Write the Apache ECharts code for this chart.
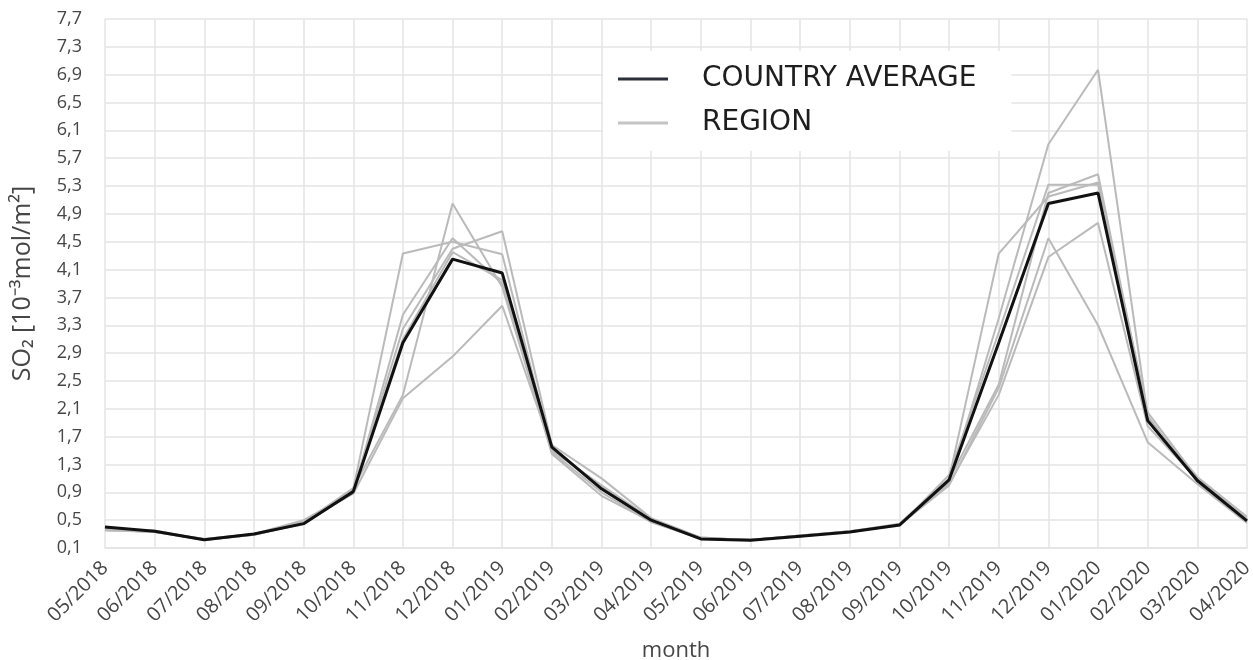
<!DOCTYPE html>
<html>
<head>
<meta charset="utf-8">
<script src="https://cdn.jsdelivr.net/npm/echarts@6/dist/echarts.min.js"></script>
<style>
  html, body { margin: 0; padding: 0; background: #fff; }
  #chart { width: 1253px; height: 660px; }
</style>
</head>
<body>
<div id="chart"></div>
<script>
// Monthly SO2 column density, 10^-3 mol/m^2
const months = [
  '05/2018','06/2018','07/2018','08/2018','09/2018','10/2018','11/2018','12/2018',
  '01/2019','02/2019','03/2019','04/2019','05/2019','06/2019','07/2019','08/2019',
  '09/2019','10/2019','11/2019','12/2019','01/2020','02/2020','03/2020','04/2020'
];

const countryAverage = [0.40,0.34,0.22,0.30,0.45,0.91,3.05,4.25,4.05,1.55,0.95,0.50,
                        0.23,0.21,0.27,0.33,0.43,1.08,3.05,5.05,5.20,1.93,1.07,0.49];

const region1 = [0.36,0.33,0.22,0.29,0.47,0.95,4.33,4.50,4.32,1.50,1.00,0.52,
                 0.24,0.22,0.28,0.34,0.45,1.10,4.33,5.15,5.35,2.05,1.10,0.52];
const region2 = [0.35,0.34,0.23,0.30,0.50,0.90,3.45,4.55,3.90,1.45,0.85,0.48,
                 0.23,0.22,0.27,0.33,0.44,1.05,3.40,5.90,6.97,2.00,1.05,0.50];
const region3 = [0.38,0.34,0.21,0.30,0.44,0.93,3.25,4.40,4.65,1.58,1.10,0.53,
                 0.25,0.21,0.28,0.34,0.42,1.15,3.20,5.32,5.32,1.95,1.12,0.55];
const region4 = [0.37,0.35,0.22,0.29,0.46,0.96,2.30,5.05,3.85,1.48,0.90,0.47,
                 0.24,0.22,0.27,0.34,0.43,1.00,2.40,4.55,3.30,1.62,1.02,0.46];
const region5 = [0.36,0.33,0.23,0.30,0.48,0.88,2.25,2.85,3.58,1.53,0.98,0.50,
                 0.25,0.21,0.28,0.33,0.44,1.02,2.30,4.28,4.77,1.85,1.08,0.50];
const region6 = [0.38,0.34,0.22,0.29,0.45,0.92,3.10,4.35,3.95,1.55,0.95,0.50,
                 0.24,0.22,0.27,0.33,0.43,1.08,2.45,5.20,5.47,1.98,1.06,0.49];
const regions = [region1, region2, region3, region4, region5, region6];

const yTicks = [0.1,0.5,0.9,1.3,1.7,2.1,2.5,2.9,3.3,3.7,4.1,4.5,4.9,5.3,5.7,6.1,6.5,6.9,7.3,7.7];

const chart = echarts.init(document.getElementById('chart'), null, { renderer: 'canvas' });

const gridColor = '#e4e4e4';
const labelColor = '#464646';
const regionColor = '#bababa';
const avgColor = '#111111';

const regionSeries = regions.map(vals => ({
  name: 'REGION',
  type: 'line',
  data: vals,
  symbol: 'none',
  lineStyle: { color: regionColor, width: 2 },
  itemStyle: { color: regionColor },
  z: 2
}));

chart.setOption({
  backgroundColor: '#ffffff',
  animation: false,
  grid: {
    left: 105, right: 6, top: 19, bottom: 112,
    containLabel: false,
    outerBoundsMode: 'none'
  },
  legend: {
    data: [
      { name: 'COUNTRY AVERAGE', itemStyle: { color: '#2b2f3a' } },
      { name: 'REGION', itemStyle: { color: '#c4c4c4' } }
    ],
    orient: 'vertical',
    left: 603,
    top: 51,
    padding: [14, 35, 14, 15],
    backgroundColor: '#ffffff',
    icon: 'rect',
    itemWidth: 50,
    itemHeight: 3,
    itemGap: 16,
    selectedMode: false,
    textStyle: {
      fontFamily: 'DejaVu Sans',
      fontSize: 28,
      color: '#1e1e1e',
      padding: [0, 0, 0, 29]
    }
  },
  xAxis: {
    type: 'category',
    data: months,
    boundaryGap: false,
    name: 'month',
    nameLocation: 'middle',
    nameGap: 92,
    nameTextStyle: { fontFamily: 'Open Sans', fontSize: 22, color: labelColor },
    axisLine: { lineStyle: { color: gridColor, width: 1.5 } },
    axisTick: { show: false },
    axisLabel: {
      rotate: 45,
      fontFamily: 'Open Sans',
      fontSize: 20,
      color: labelColor,
      margin: 17,
      interval: 0
    },
    splitLine: { show: true, lineStyle: { color: gridColor, width: 1.5 } }
  },
  yAxis: {
    type: 'value',
    min: 0.1,
    max: 7.7,
    name: 'SO\u2082 [10\u207B\u00B3mol/m\u00B2]',
    nameLocation: 'middle',
    nameGap: 70,
    nameTextStyle: { fontFamily: 'Open Sans', fontSize: 25, color: labelColor },
    axisLine: { show: false },
    axisTick: { show: false, customValues: yTicks },
    axisLabel: {
      customValues: yTicks,
      fontFamily: 'Open Sans',
      fontSize: 18,
      color: labelColor,
      margin: 23,
      formatter: v => v.toFixed(1).replace('.', ',')
    },
    splitLine: { show: true, lineStyle: { color: gridColor, width: 1.5 } }
  },
  series: [
    {
      name: 'COUNTRY AVERAGE',
      type: 'line',
      data: countryAverage,
      symbol: 'none',
      lineStyle: { color: avgColor, width: 3 },
      itemStyle: { color: avgColor },
      z: 5
    },
    ...regionSeries
  ]
});
</script>
</body>
</html>
